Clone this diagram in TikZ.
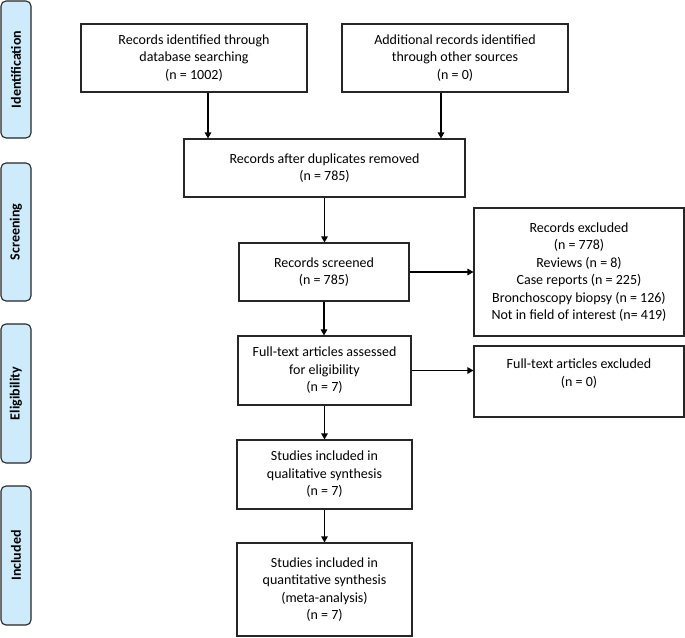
\documentclass[tikz,border=0pt]{standalone}
\usepackage{fontspec}
\setmainfont{Carlito}
\usetikzlibrary{arrows.meta,calc}
\definecolor{tabblue}{HTML}{CDEBFB}
\begin{document}
\begin{tikzpicture}[x=1pt,y=-1pt,
  box/.style={draw=black!85, line width=1.1pt, fill=white, align=center, inner sep=0pt,
    font=\fontsize{14}{17.5}\selectfont},
  tab/.style={draw=black!85, line width=1.1pt, fill=tabblue, rounded corners=5pt,
    minimum width=30pt, inner sep=0pt},
  tablabel/.style={rotate=90, font=\fontsize{14}{16}\selectfont\bfseries},
  arr/.style={line width=1.1pt, -{Triangle[width=6.5pt,length=6pt]}}]
\useasboundingbox (0,0) rectangle (685,637);

% side tabs
\node[tab, minimum height=137pt] (t1) at (16,69.5) {};
\node[tablabel] (l1) at (t1.center) {Identification};
\node[tab, minimum height=138pt] (t2) at (16,232) {};
\node[tablabel] (l2) at (t2.center) {Screening};
\node[tab, minimum height=139pt] (t3) at (16,393.5) {};
\node[tablabel] (l3) at (t3.center) {Eligibility};
\node[tab, minimum height=139pt] (t4) at (16,555.5) {};
\node[tablabel] (l4) at (t4.center) {Included};

% boxes
\node[box, minimum width=226pt, minimum height=68pt] (b1) at (194,58)
  {Records identified through\\database searching\\(n = 1002)};
\node[box, minimum width=226pt, minimum height=68pt] (b2) at (455,58)
  {Additional records identified\\through other sources\\(n = 0)};
\node[box, minimum width=281pt, minimum height=58pt] (b3) at (324.5,168)
  {Records after duplicates removed\\(n = 785)};
\node[box, minimum width=170pt, minimum height=58pt] (b4) at (324,272)
  {Records screened\\(n = 785)};
\node[box, minimum width=210pt, minimum height=128pt] (b5) at (579,272)
  {Records excluded\\(n = 778)\\Reviews (n = 8)\\Case reports (n = 225)\\Bronchoscopy biopsy (n = 126)\\Not in field of interest (n= 419)};
\node[box, minimum width=173pt, minimum height=69pt] (b6) at (324.5,370.5)
  {Full-text articles assessed\\for eligibility\\(n = 7)};
\node[box, minimum width=210pt, minimum height=71pt] (b7) at (579,381.5)
  {Full-text articles excluded\\(n = 0)\\\mbox{}};
\node[box, minimum width=175pt, minimum height=69pt] (b8) at (324.5,474.5)
  {Studies included in\\qualitative synthesis\\(n = 7)};
\node[box, minimum width=175pt, minimum height=93pt] (b9) at (324.5,589.5)
  {Studies included in\\quantitative synthesis\\(meta-analysis)\\(n = 7)};

% connectors
\draw[arr] ([xshift=14pt]b1.south) -- ([xshift=14pt]b1.south |- b3.north);
\draw[arr] ([xshift=-14pt]b2.south) -- ([xshift=-14pt]b2.south |- b3.north);
\draw[arr] (b3.south) -- (b3.south |- b4.north);
\draw[arr] (b4.east) -- (b5.west);
\draw[arr] (b4.south) -- (b4.south |- b6.north);
\draw[arr] (b6.east) -- (b6.east -| b7.west);
\draw[arr] (b6.south) -- (b6.south |- b8.north);
\draw[arr] (b8.south) -- (b8.south |- b9.north);
\end{tikzpicture}
\end{document}
